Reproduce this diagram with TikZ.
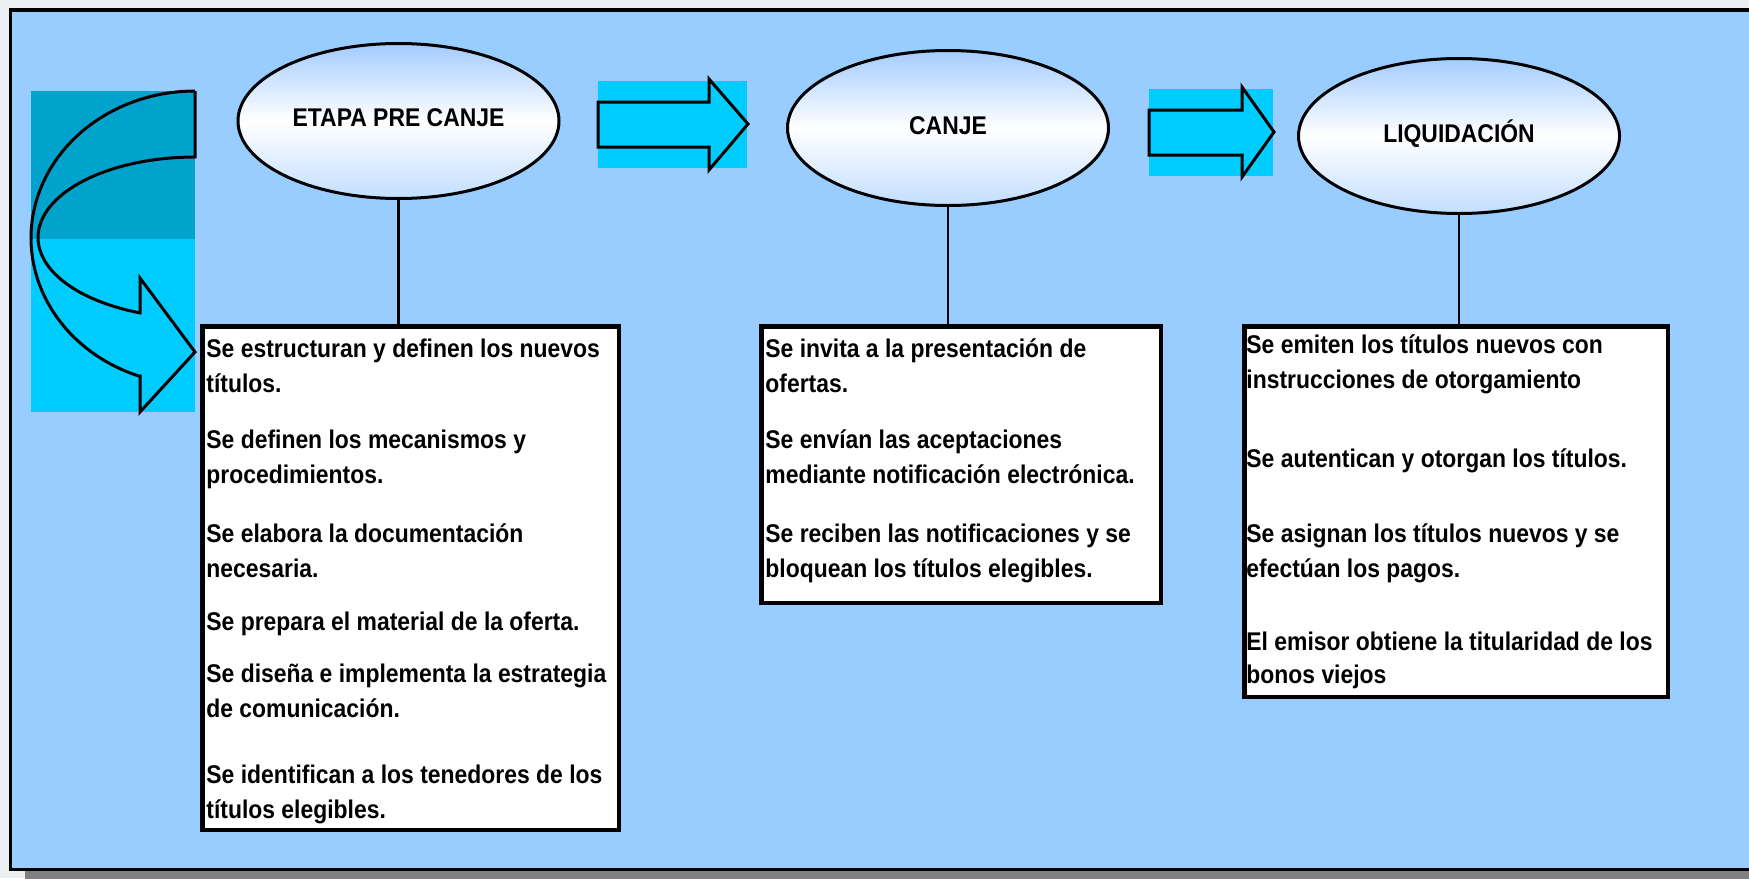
\documentclass[tikz,border=0pt]{standalone}
\usepackage{fontspec}
\setmainfont{Liberation Sans}[FakeStretch=0.895]
\usetikzlibrary{shapes.geometric}
\definecolor{bgout}{HTML}{EBEFF2}
\definecolor{frameblue}{HTML}{99CCFF}
\definecolor{cyanA}{HTML}{00CCFF}
\definecolor{tealA}{HTML}{00A3CC}
\definecolor{ellTop}{HTML}{A3CCFF}
\definecolor{ellBot}{HTML}{C2DEFF}
\definecolor{shadowgray}{HTML}{808080}
\begin{document}
\begin{tikzpicture}[x=0.5pt,y=-0.5pt,
  txt/.style={anchor=base west,inner sep=0pt,font=\fontsize{12.8pt}{17.5pt}\selectfont\bfseries},
  ttl/.style={anchor=base,inner sep=0pt,font=\fontsize{12.8pt}{17.5pt}\selectfont\bfseries},
  stage/.style={ellipse,draw=black,line width=1.5pt,minimum width=160.5pt,minimum height=77.5pt,inner sep=0pt,top color=ellTop,bottom color=ellBot,middle color=white},
  textbox/.style={rectangle,draw=black,fill=white,line width=2.25pt,inner sep=0pt},
  link/.style={draw=black,line width=1.35pt},
  blockarrow/.style={draw=black,fill=cyanA,line width=1.5pt,line join=miter}
]
\useasboundingbox (0,0) rectangle (1749,878);
\clip (0,0) rectangle (1749,878);
\fill[bgout] (0,0) rectangle (1749,878);
\fill[shadowgray] (25,20) rectangle (1770,890);
\draw[fill=frameblue,line width=1.75pt] (10.5,10.2) rectangle (1770,869.4);

% curved arrow
\fill[tealA] (31,91) rectangle (195,239);
\fill[cyanA] (31,239) rectangle (195,412);
\draw[line width=1.5pt,line join=miter]
  (195,91) -- (195,157)
  -- plot[domain=270:110.5,samples=60] ({195+157*cos(\x)},{237.5+80.5*sin(\x)})
  -- (140,278) -- (195,352) -- (140,412) -- (140,376)
  -- plot[domain=110:270,samples=60] ({195+164*cos(\x)},{238+147*sin(\x)})
  -- cycle;

% straight arrows
\fill[cyanA] (598,81) rectangle (747,168);
\draw[blockarrow] (598,102) -- (709,102) -- (709,79) -- (748,124) -- (709,170) -- (709,147) -- (598,147) -- cycle;
\fill[cyanA] (1149,89) rectangle (1273,176);
\draw[blockarrow] (1149,110) -- (1242,110) -- (1242,87) -- (1274,132) -- (1242,177) -- (1242,155) -- (1149,155) -- cycle;

% stages
\node[stage] (e1) at (398.5,121) {};
\node[stage] (e2) at (948,128) {};
\node[stage] (e3) at (1459,136) {};
\node[ttl] (l1) at (398.5,126) {ETAPA PRE CANJE};
\node[ttl] (l2) at (948,134) {CANJE};
\node[ttl] (l3) at (1459,142) {LIQUIDACIÓN};

% boxes
\node[textbox,minimum width=208.25pt,minimum height=251.75pt] (b1) at (410.5,578) {};
\node[textbox,minimum width=199.75pt,minimum height=138.25pt] (b2) at (961,464.5) {};
\node[textbox,minimum width=211.75pt,minimum height=185.25pt] (b3) at (1456,511.5) {};

\draw[link] (e1.south) -- (e1.south |- b1.north);
\draw[link] (e2.south) -- (e2.south |- b2.north);
\draw[link] (e3.south) -- (e3.south |- b3.north);

\foreach \yy/\tt [count=\i] in {357/Se estructuran y definen los nuevos,392/títulos.,448/Se definen los mecanismos y,483/procedimientos.,542/Se elabora la documentación,577/necesaria.,630/Se prepara el material de la oferta.,682/Se diseña e implementa la estrategia,717/de comunicación.,783/Se identifican a los tenedores de los,818/títulos elegibles.}
  \node[txt] (pa\i) at (206,\yy) {\tt};

\foreach \yy/\tt [count=\i] in {357/Se invita a la presentación de,392/ofertas.,448/Se envían las aceptaciones,483/mediante notificación electrónica.,542/Se reciben las notificaciones y se,577/bloquean los títulos elegibles.}
  \node[txt] (pb\i) at (765,\yy) {\tt};

\foreach \yy/\tt [count=\i] in {353/Se emiten los títulos nuevos con,388/instrucciones de otorgamiento,467/Se autentican y otorgan los títulos.,542/Se asignan los títulos nuevos y se,577/efectúan los pagos.,650/El emisor obtiene la titularidad de los,683/bonos viejos}
  \node[txt] (pc\i) at (1246,\yy) {\tt};
\end{tikzpicture}
\end{document}
